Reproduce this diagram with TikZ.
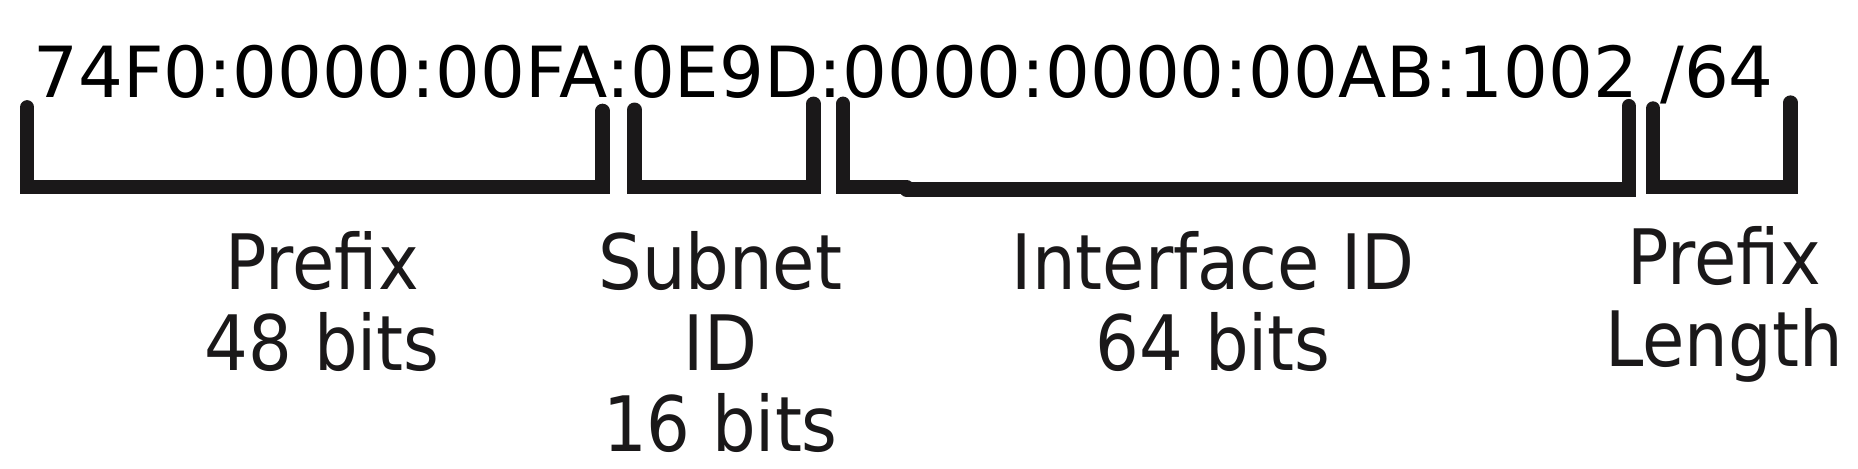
\documentclass[tikz,border=0pt]{standalone}
\usepackage{fontspec}
\setmainfont{DejaVu Sans}
\newfontfamily\condfont{DejaVu Sans Condensed}
\definecolor{bracketgray}{HTML}{1A1819}
\begin{document}
\begin{tikzpicture}[x=0.6pt, y=-0.6pt,
  bracket/.style={line width=7.2pt, draw=bracketgray, line cap=round, line join=miter},
  part/.style={font=\condfont\fontsize{38.7}{41.1}\selectfont, text=bracketgray, align=center, inner sep=0pt, anchor=base}]
\useasboundingbox (0,0) rectangle (1568,395);
% Adresse IPv6
\node[anchor=base west, inner sep=0pt, font=\fontsize{35.7}{40}\selectfont] (addr) at (28,82) {74F0:0000:00FA:0E9D:0000:0000:00AB:1002 /64};
% Accolades
\draw[bracket] (23,90.5) -- (23,157.5) -- (508.5,157.5) -- (508.5,93.5);
\draw[bracket] (535.5,92.5) -- (535.5,157.5) -- (686.5,157.5) -- (686.5,87.5);
\draw[bracket] (711.5,87.5) -- (711.5,157.5) -- (765,157.5);
\draw[bracket] (765,160) -- (1374.5,160) -- (1374.5,89.5);
\draw[bracket] (1395,91.5) -- (1395,157.5) -- (1511,157.5) -- (1511,86.5);
% Legendes
\node[part] (prefix) at (272,313) {Prefix\\48 bits};
\node[part] (subnet) at (608,381) {Subnet\\ID\\16 bits};
\node[part] (iface) at (1024,313) {Interface ID\\64 bits};
\node[part] (plen) at (1455,309) {Prefix\\Length};
\end{tikzpicture}
\end{document}
